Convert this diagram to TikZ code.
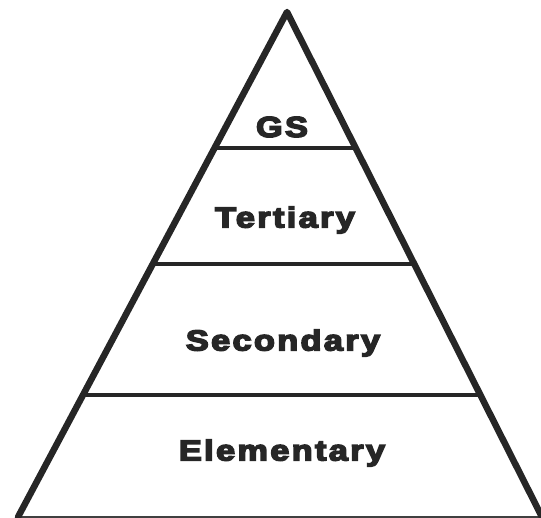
\documentclass[tikz,border=0pt]{standalone}
\usepackage{fontspec}
\setmainfont{Liberation Sans}[FakeBold=5]
\usetikzlibrary{calc}
\begin{document}
\begin{tikzpicture}[x=1pt,y=-1pt,
  side/.style={line width=6.5pt,line join=round,line cap=round,black!85},
  level/.style={line width=4.5pt,black!85},
  baseline/.style={line width=1.5pt,black!75},
  lbl/.style={font=\bfseries\fontsize{29}{31}\selectfont\addfontfeature{LetterSpace=7},text=black!85,inner sep=0pt}]
\useasboundingbox (0,0) rectangle (541,518);
\coordinate (A) at (287,12);
\coordinate (L) at (18,517);
\coordinate (R) at (542,517);
\draw[baseline] (L) -- (R);
\draw[side] (L) -- (A) -- (R);
\foreach \t/\n in {0.269/g, 0.499/t, 0.758/s}{
  \coordinate (l\n) at ($(A)!\t!(L)$);
  \coordinate (r\n) at ($(A)!\t!(R)$);
  \draw[level] (l\n) -- (r\n);
}
\node[lbl] (gs) at (282,127) {\scalebox{1.18}[1]{GS}};
\node[lbl] (ter) at (285,220) {\scalebox{1.18}[1]{Tertiary}};
\node[lbl] (sec) at (283,343) {\scalebox{1.18}[1]{Secondary}};
\node[lbl] (ele) at (282,453) {\scalebox{1.18}[1]{Elementary}};
\end{tikzpicture}
\end{document}
